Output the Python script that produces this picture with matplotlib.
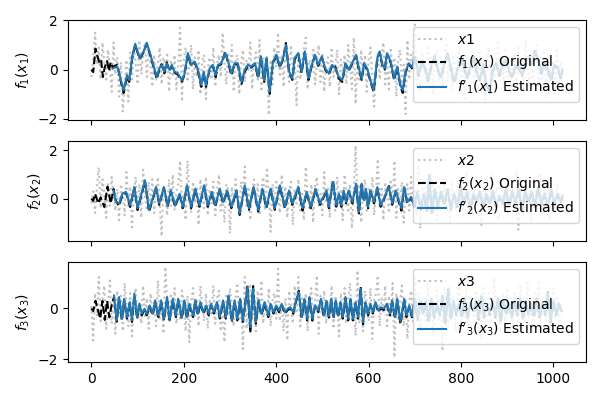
import numpy as np
import matplotlib.pyplot as plt

# input signals (dotted grey), sampled every 4 steps
x1 = [-0.3, 0.4, 1.5, 0.2, 0.9, -0.4, 1.1, 0.3, -0.5, 0.8, 0.1, -0.9, 1.1, -0.2, 0.5, -1.1,
      0.3, -1.7, -0.6, 0.4, -1.3, 0.7, -0.4, 0.9, 0.2, -0.6, 1.2, -0.2, 0.6, 1.1, -0.3, 0.8,
      0.2, -0.7, 0.6, -0.4, 0.3, 0.9, -0.6, 0.5, -0.2, 0.7, -0.9, 0.4, -0.3, 0.6, -0.8, 0.2,
      1.7, -1.3, 0.4, 0.9, -0.5, 0.2, 1.0, -0.8, 0.5, -0.3, 0.8, -1.0, 0.3, 0.6, -1.2, 0.1,
      0.5, -0.4, 0.9, -0.7, 0.2, 0.6, -0.3, 1.5, 0.4, -0.6, 0.7, -0.2, 1.0, -0.9, 0.3, 0.6,
      -1.0, 0.2, 0.8, -0.5, 0.4, -0.1, 1.1, -0.8, 0.3, 0.7, -0.4, 1.2, -0.9, 0.5, -0.2, 0.6,
      -1.85, 0.4, -0.6, 0.9, 0.1, 1.5, -0.3, 0.6, -0.7, 0.8, 0.2, -0.5, 1.0, -0.2, 0.5, -1.45,
      0.7, -0.4, 0.3, 0.9, 1.3, -0.8, 0.4, -0.2, 0.8, -0.6, 0.3, 1.0, -0.5, 0.6, -0.9, 0.2,
      0.5, -0.7, 0.9, -0.3, 0.2, 0.8, -1.0, 0.4, -0.2, 0.6, -0.6, 1.0, 0.1, -0.8, 1.3, -1.4,
      0.3, -0.5, 0.8, -0.2, 0.6, -0.9, 0.4, 0.9, -0.3, -1.5, 0.2, 0.7, -0.4, 0.5, 1.1, -0.6,
      0.3, -0.8, 0.9, -0.2, 0.5, -1.1, 0.4, 0.8, -0.6, 0.2, -1.8, 1.2, -0.4, 0.6, 0.2, 1.83,
      -0.6, 0.4, -0.9, 0.7, 0.1, -0.5, 0.9, -0.3, 0.5, -1.0, 0.3, 0.8, -0.4, 0.6, -0.7, 0.2,
      1.0, -0.5, 0.3, -0.8, 0.6, 0.1, -0.4, 0.9, -0.6, 0.4, -1.2, 0.5, 0.2, -0.3, 0.8, -0.5,
      0.4, -0.9, 0.7, -0.2, 0.3, -1.3, 0.6, 0.9, -0.4, 0.2, -0.7, 0.5, 1.1, -0.3, 0.4, -0.6,
      0.8, -0.4, 0.2, -1.0, 0.6, 0.3, -0.5, 0.9, -0.2, 0.4, -0.8, 1.2, 0.1, -0.6, 0.7, -0.3,
      0.5, 1.0, -0.7, 0.3, -0.4, 0.8, -1.1, 0.2, 0.6, -0.5, 0.4, -0.8, 0.9, -0.2, 0.3, -0.4]

x2 = [-0.2, 0.3, -0.6, 0.5, 1.3, -0.4, 0.8, 0.2, -0.8, 0.6, -0.3, 0.9, 0.1, -0.5, 0.4, -0.9,
      0.6, 0.2, -0.7, 1.1, -0.3, 0.5, -1.2, 0.3, 0.9, -0.4, 0.6, -0.8, 1.2, 0.1, -0.5, 0.7,
      -0.3, 0.8, -0.6, 0.4, 0.9, -0.2, -1.57, 0.5, 0.2, -0.7, 0.8, -0.3, 1.0, -0.5, 0.3, 0.6,
      1.58, -0.4, 0.2, -0.9, 1.58, 0.3, -0.6, 0.7, -0.2, 0.5, -1.1, 0.8, 0.1, -0.4, 0.9, -0.7,
      0.4, -0.2, 0.7, -0.8, 0.3, 1.0, -0.5, 0.2, -1.0, 0.6, 0.4, -1.45, 0.5, -0.3, 0.8, 0.1,
      -0.6, 0.7, 0.2, 1.33, -0.4, 0.5, -0.9, 0.3, 0.8, -0.2, 0.6, -0.7, 0.4, 0.9, -0.5, 1.3,
      0.2, -1.38, 0.6, -0.3, 0.8, 0.1, -0.6, 1.0, -0.4, 0.5, -0.8, 0.3, 0.7, -1.1, 0.4, -0.2,
      0.8, -0.5, 0.3, -0.9, 1.33, 0.2, -0.4, 0.6, -1.0, 0.5, 0.9, -0.3, 0.2, -0.7, 1.1, -0.2,
      0.5, -0.8, 0.7, 0.1, -0.5, 0.9, -0.3, 0.4, -0.9, 1.0, 0.2, -0.6, 0.6, -1.24, 0.3, 2.2,
      -0.4, 0.6, -1.0, 0.3, 0.8, -0.5, 0.4, -0.2, 0.9, -0.7, 0.2, 1.65, -0.3, 0.5, -0.9, 0.6,
      0.1, -0.6, 0.8, -0.3, 1.58, -0.8, 0.4, -0.2, 0.7, -1.0, 0.3, 0.6, -0.5, 0.9, -0.2, 0.4,
      -0.7, 1.38, -1.24, 0.5, -0.3, 0.8, -0.5, 0.2, 1.0, -0.6, 0.4, -0.9, 0.6, 0.1, -0.4, 0.8,
      -0.3, 0.5, -1.0, 0.7, 0.2, -0.5, 0.9, -0.2, 0.4, -0.8, 0.6, 1.1, -0.4, 0.3, -0.7, 0.5,
      0.9, -0.3, 0.2, -1.1, 0.6, -0.2, 0.8, -0.6, 0.3, 1.0, -0.4, 0.5, -0.9, 0.2, 0.7, -0.5,
      0.3, -0.7, 0.9, -0.2, 0.5, -0.4, 1.2, -1.3, 0.4, 0.1, -0.6, 0.8, -0.3, 0.6, -1.0, 0.2,
      0.7, -0.4, 0.3, 1.0, -0.6, 0.5, -0.2, 0.8, -0.9, 0.4, 0.1, -0.5, 0.6, -0.3, 0.2, -0.1]

x3 = [0.1, -1.26, 0.6, -0.3, 1.24, -0.5, 0.3, 0.9, -0.8, 0.2, 1.1, -0.6, 0.4, -1.0, 0.7, -0.2,
      0.5, -0.9, 1.0, 0.2, -0.7, 0.6, -1.1, 0.3, 0.8, -0.4, 0.2, -0.6, 0.9, -0.3, 0.4, -0.8,
      0.6, -0.2, 0.3, -0.7, 1.1, -0.4, 0.2, -1.0, 1.64, 0.3, -0.5, 0.6, -0.2, 0.8, -0.6, 0.1,
      -0.4, 0.7, 0.2, -0.9, 0.5, -1.33, 0.3, 0.8, -0.3, 0.4, -0.7, 0.9, 0.1, -0.5, 0.6, -0.8,
      0.3, -0.2, 0.9, -0.6, 0.4, 0.7, -0.9, 0.2, -1.33, 0.6, -0.3, 0.8, 0.1, -0.7, 0.4, 1.0,
      -0.5, 0.3, -1.6, 1.24, -0.8, 0.5, 0.9, -0.4, 0.2, -0.9, 0.7, -0.2, 1.1, -0.6, 0.3, -0.3,
      0.8, -0.7, 0.3, 0.6, -0.4, 1.57, -0.5, 0.2, -0.9, 0.4, -1.26, 0.7, 0.1, -0.6, 0.9, -0.2,
      1.24, -0.8, 0.4, -0.3, 0.6, -0.9, 0.2, 0.8, -0.5, 0.3, 1.3, -1.0, 0.5, -0.2, 0.7, -0.6,
      0.3, -0.4, 0.9, -0.8, 0.5, 0.2, -1.1, 0.6, -0.3, 0.8, -0.6, 0.4, 1.0, -0.5, 0.2, -1.07,
      1.5, -0.6, 0.4, -0.9, 0.7, 0.2, -0.5, 0.8, -1.2, 0.3, 0.6, 1.3, -0.7, 0.4, -0.2, 0.9,
      -0.8, 0.5, -0.3, 1.0, -1.93, 0.6, -0.4, 0.2, 0.9, -0.7, 0.4, -1.2, 0.3, 0.7, -0.5, 1.2,
      -0.3, 0.6, -0.9, 0.4, 0.1, -0.6, 1.0, -0.4, 0.5, -1.1, 0.3, 0.7, -0.5, 0.2, -1.6, 0.8,
      0.4, -0.7, 0.9, -0.2, 0.5, -0.9, 0.3, 1.1, -0.6, 0.2, -0.4, 0.8, -1.0, 0.5, 0.1, -0.6,
      0.7, -0.3, 0.4, -1.2, 0.9, 0.2, -0.5, 0.6, -0.8, 0.3, 1.2, -0.4, 0.5, -0.9, 0.2, 0.6,
      -0.5, 0.8, -0.2, 0.4, -1.0, 0.6, 0.1, -0.7, 0.9, -0.3, 0.5, -0.6, 1.1, -0.4, 0.3, -0.9,
      0.6, -0.2, 1.0, -0.8, 0.4, 0.2, -0.5, 0.7, -1.0, 0.3, 0.8, -0.4, 0.5, -0.6, 0.2, 0.1]

# f1: knot positions, original and estimated (estimate starts at t1[11])
t1 = [0, 4, 9, 13, 17, 21, 25, 29, 34, 38, 42,
      46, 56, 64, 70, 77, 82, 89, 95, 104, 107,
      113, 120, 128, 136, 142, 147, 152, 158, 163, 169,
      174, 180, 187, 196, 201, 209, 216, 223, 230, 238,
      243, 248, 256, 263, 269, 274, 281, 290, 296, 303,
      310, 317, 325, 332, 339, 346, 354, 361, 367, 374,
      379, 386, 393, 401, 408, 415, 421, 428, 435, 440,
      448, 455, 462, 470, 477, 484, 491, 499, 506, 514,
      521, 528, 535, 543, 550, 557, 564, 573, 579, 585,
      590, 597, 604, 611, 619, 624, 630, 635, 640, 648,
      655, 662, 669, 674, 680, 687,
      694, 701, 708, 715, 722, 729, 736, 743, 750, 757,
      764, 771, 778, 785, 792, 799, 806, 813, 820, 827,
      834, 841, 848, 855, 862, 869, 876, 883, 890, 897,
      904, 911, 918, 925, 932, 939, 946, 953, 960, 967,
      974, 981, 988, 995, 1002, 1009, 1016, 1020]
f1_orig = [0.0, -0.1, 0.85, 0.55, 0.3, 0.4, -0.3, 0.1, 0.35, -0.05, 0.3,
           0.1, 0.2, -0.5, -0.95, -0.3, -0.5, 0.55, 1.0, 0.45, 0.5,
           0.7, 1.05, 0.55, 0.0, -0.38, 0.0, 0.22, -0.15, 0.3, -0.05,
           0.15, -0.12, -0.2, -0.48, -0.25, 0.62, 0.15, 0.3, 0.0, -0.7,
           -0.12, -0.7, 0.0, 0.15, -0.3, 0.15, 0.22, 0.72, 0.28, -0.22,
           0.22, 0.2, -0.58, -0.08, 0.15, 0.08, 0.22, -0.35, 0.5, -0.5,
           0.42, -0.98, 0.3, 0.55, 0.08, 0.43, 1.08, -0.12, -0.42, 0.42,
           0.62, -0.15, 0.7, -0.42, 0.15, 0.55, 0.15, 0.5, 0.0, -0.2,
           0.15, 0.12, -0.35, -0.5, 0.22, -0.05, 0.22, 0.56, 0.0, -0.42,
           0.22, 0.0, -0.48, -0.9, 0.42, 0.7, 0.15, 0.0, 0.62, 0.28,
           -0.42, 0.08, -0.7, -0.95, -0.12, 0.22,
           0.05, 0.55, -0.25, 0.25, 0.05, -0.45, 0.15, 0.55, -0.05, -0.35,
           0.25, 0.65, 0.05, -0.55, -0.05, 0.45, 0.15, -0.35, 0.05, 0.55,
           -0.15, -0.45, 0.15, -0.65, -0.95, -0.05, 0.25, -0.25, 0.15, 0.45,
           -0.05, -0.35, 0.15, 0.05, -0.25, 0.25, 0.55, 0.15, 0.75, 0.35,
           -0.15, 0.25, -0.05, -0.45, 0.15, 0.05, -0.35, 0.0]
f1_est = [0.05, 0.12, -0.43, -0.84, -0.22, -0.43, 0.6, 1.05, 0.47, 0.54,
          0.74, 1.09, 0.6, 0.05, -0.3, 0.05, 0.19, -0.08, 0.26, -0.01,
          0.19, -0.08, -0.15, -0.43, -0.22, 0.67, 0.19, 0.33, 0.05, -0.63,
          -0.08, -0.63, 0.05, 0.19, -0.22, 0.19, 0.26, 0.67, 0.33, -0.15,
          0.26, 0.26, -0.5, -0.01, 0.19, 0.12, 0.26, -0.29, 0.54, -0.43,
          0.47, -0.9, 0.33, 0.6, 0.12, 0.47, 1.0, -0.08, -0.36, 0.47,
          0.67, -0.08, 0.74, -0.36, 0.19, 0.6, 0.19, 0.54, 0.05, -0.15,
          0.19, 0.05, -0.29, -0.43, 0.26, -0.01, 0.26, 0.6, 0.05, -0.36,
          0.26, 0.05, -0.43, -0.84, 0.47, 0.74, 0.19, 0.05, 0.67, 0.33,
          -0.36, 0.12, -0.63, -0.84, -0.08, 0.26,
          0.1, 0.5, -0.2, 0.3, 0.1, -0.4, 0.2, 0.5, 0.0, -0.3,
          0.3, 0.6, 0.1, -0.5, 0.0, 0.4, 0.2, -0.3, 0.1, 0.5,
          -0.1, -0.4, 0.2, -0.6, -0.9, 0.0, 0.3, -0.2, 0.2, 0.4,
          0.0, -0.3, 0.2, 0.1, -0.2, 0.3, 0.5, 0.2, 0.7, 0.4,
          -0.1, 0.3, 0.0, -0.4, 0.2, 0.1, -0.3, 0.0]

# f2 (estimate starts at t2[8])
t2 = [0, 4, 8, 15, 20, 28, 35, 42,
      48, 53, 60, 67, 75, 84, 93, 100, 116, 125,
      140, 147, 157, 165, 172, 181, 191, 198, 207, 216,
      225, 234, 244, 252, 261, 268, 278, 285, 294, 303,
      314, 321, 332, 341, 351, 361, 370, 379, 388, 397,
      408, 419, 428, 435, 448, 457, 466, 475, 485, 495,
      509, 514, 523, 530, 536, 541, 546, 551, 557, 565,
      573, 579, 585, 590, 594, 599, 604, 612, 619, 626,
      633, 644, 651, 659, 665, 671, 677, 684, 692,
      699, 706, 713, 720, 726, 731, 737, 743, 750, 757,
      764, 771, 778, 785, 792, 799, 806, 813, 820, 827,
      834, 841, 848, 855, 862, 869, 876, 883, 890, 897,
      904, 911, 918, 925, 932, 939, 946, 953, 960, 967,
      974, 981, 988, 995, 1002, 1009, 1016, 1020]
f2_orig = [0.0, -0.1, 0.2, -0.2, 0.05, -0.35, 0.5, -0.2,
           0.4, -0.1, -0.3, 0.15, 0.25, -0.35, 0.45, -0.48, 0.72, -0.55,
           0.44, -0.26, 0.44, -0.34, 0.3, -0.34, 0.16, -0.4, 0.5, -0.4,
           0.37, -0.34, 0.5, -0.34, 0.24, -0.34, 0.37, -0.2, 0.3, -0.4,
           0.3, -0.68, 0.5, -0.47, 0.44, -0.54, 0.37, -0.4, 0.37, -0.47,
           0.5, -0.4, 0.3, -0.26, 0.44, -0.5, 0.24, -0.4, 0.37, -0.26,
           0.3, -0.4, 0.75, -0.34, 0.16, -0.34, 0.3, -0.2, 0.3, -0.2,
           0.58, -0.62, 0.58, -0.12, 0.37, -0.4, 0.3, -0.2, 0.44, -0.34,
           -0.05, 0.52, -0.26, 0.3, -0.12, -0.5, 0.44, -0.2, 0.03,
           -0.35, 0.25, -0.45, 0.15, -0.55, 0.95, -0.65, 0.35, -0.35, 0.25,
           -0.25, 0.35, -0.45, 0.15, -0.35, 0.45, -0.25, 0.25, -0.45, 0.15,
           -0.15, 0.25, -0.35, 0.15, -0.25, 0.25, -0.35, 0.05, -0.25, 0.35,
           -0.35, 0.25, -0.25, 0.35, -0.45, 0.25, -0.15, 0.25, -0.35, 0.45,
           -0.25, 0.15, -0.35, 0.35, -0.25, 0.15, -0.15, 0.05]
f2_est = [0.34, -0.14, -0.2, 0.2, 0.28, -0.28, 0.48, -0.41, 0.76, -0.48,
          0.48, -0.2, 0.48, -0.28, 0.34, -0.28, 0.2, -0.34, 0.55, -0.34,
          0.41, -0.28, 0.55, -0.28, 0.28, -0.28, 0.41, -0.14, 0.34, -0.34,
          0.34, -0.62, 0.55, -0.41, 0.48, -0.48, 0.41, -0.34, 0.41, -0.41,
          0.55, -0.34, 0.34, -0.2, 0.48, -0.41, 0.28, -0.34, 0.41, -0.2,
          0.34, -0.34, 0.69, -0.28, 0.2, -0.28, 0.34, -0.14, 0.34, -0.14,
          0.62, -0.55, 0.62, -0.07, 0.41, -0.34, 0.34, -0.14, 0.48, -0.28,
          0.0, 0.48, -0.2, 0.34, -0.07, -0.41, 0.48, -0.14, 0.07,
          -0.3, 0.3, -0.4, 0.2, -0.5, 1.0, -0.6, 0.4, -0.3, 0.3,
          -0.2, 0.4, -0.4, 0.2, -0.3, 0.5, -0.2, 0.3, -0.4, 0.2,
          -0.1, 0.3, -0.3, 0.2, -0.2, 0.3, -0.3, 0.1, -0.2, 0.4,
          -0.3, 0.3, -0.2, 0.4, -0.4, 0.3, -0.1, 0.3, -0.3, 0.5,
          -0.2, 0.2, -0.3, 0.4, -0.2, 0.2, -0.1, 0.1]

# f3 (estimate starts at t3[10])
t3 = [0, 4, 9, 14, 19, 24, 29, 34, 39, 44,
      49, 55, 60, 66, 71, 77, 83, 88, 93, 99,
      104, 109, 115, 120, 126, 133, 138, 145, 151, 157,
      164, 169, 176, 183, 188, 196, 201, 207, 212, 220,
      225, 230, 236, 242, 249, 254, 259, 265, 272, 278,
      285, 291, 297, 304, 310, 316, 322, 328, 338, 344,
      350, 356, 362, 368, 375, 383, 388, 394, 400, 406,
      412, 419, 425, 430, 437, 442, 449, 455, 461, 467,
      472, 478, 484, 491, 497, 503, 509, 514, 519, 524,
      529, 534, 539, 544, 550, 556, 561, 566, 572, 577,
      583, 588, 593, 599, 604, 609, 615, 621, 626, 633,
      640, 646, 651, 657, 662, 669, 677, 682, 688,
      694, 700, 706, 712, 718, 724, 730, 736, 742, 748,
      754, 760, 766, 772, 778, 784, 790, 796, 802, 808,
      814, 820, 826, 832, 838, 844, 850, 856, 862, 868,
      874, 880, 886, 892, 898, 904, 910, 916, 922, 928,
      934, 940, 946, 952, 958, 964, 970, 976, 982, 988,
      994, 1000, 1006, 1012, 1018]
f3_orig = [0.0, -0.1, 0.3, -0.05, -0.4, 0.3, -0.45, 0.3, -0.35, 0.15,
           0.45, -0.52, 0.4, -0.46, 0.33, -0.4, 0.2, -0.53, 0.53, -0.4,
           0.13, -0.27, -0.06, -0.27, 0.07, -0.27, 0.27, -0.34, 0.27, -0.47,
           0.4, -0.53, 0.33, -0.34, 0.33, -0.4, 0.27, -0.4, 0.13, -0.34,
           0.27, -0.27, 0.2, -0.2, 0.07, -0.27, 0.13, -0.2, 0.2, -0.4,
           0.27, -0.4, 0.46, -0.53, 0.27, -0.47, 0.33, -0.53, 0.9, -0.95,
           0.88, -0.6, 0.27, -0.27, 0.2, -0.34, 0.13, -0.2, 0.07, -0.14,
           0.13, -0.2, -0.06, 0.0, -0.2, 0.2, 0.7, -0.4, 0.33, -0.47,
           0.4, -0.47, 0.07, -0.14, 0.33, -0.34, 0.25, -0.36, 0.33, -0.4,
           0.27, -0.34, 0.2, -0.4, 0.4, -0.47, 0.33, -0.47, 0.2, -0.4,
           0.85, -0.62, 0.2, -0.27, 0.13, -0.2, 0.2, -0.14, 0.0, -0.06,
           0.13, -0.27, 0.27, -0.4, 0.33, -0.62, 0.33, -0.34, 0.07,
           -0.35, 0.35, -0.45, 0.25, -0.25, 0.25, -0.55, 0.35, -0.35, 0.15,
           -0.25, 0.45, -0.65, 0.75, -0.45, 0.25, -0.25, 0.15, -0.35, 0.35,
           -0.35, 0.15, -0.15, 0.25, -0.45, 0.45, -0.35, 0.15, -0.25, 0.25,
           -0.35, 0.35, -0.55, 0.25, -0.25, 0.15, -0.35, 0.25, -0.25, 0.35,
           -0.45, 0.25, -0.25, 0.15, -0.35, 0.35, -0.35, 0.15, -0.25, 0.65,
           -0.55, 0.25, -0.25, 0.15, -0.1]
f3_est = [0.51, -0.47, 0.45, -0.41, 0.38, -0.34, 0.25, -0.47, 0.58, -0.34,
          0.18, -0.21, -0.01, -0.21, 0.12, -0.21, 0.32, -0.28, 0.32, -0.41,
          0.45, -0.47, 0.38, -0.28, 0.38, -0.34, 0.32, -0.34, 0.18, -0.28,
          0.32, -0.21, 0.25, -0.14, 0.12, -0.21, 0.18, -0.14, 0.25, -0.34,
          0.32, -0.34, 0.51, -0.47, 0.32, -0.41, 0.38, -0.47, 0.84, -0.74,
          0.78, -0.54, 0.32, -0.21, 0.25, -0.28, 0.18, -0.14, 0.12, -0.08,
          0.18, -0.14, -0.01, 0.05, -0.14, 0.25, 0.65, -0.34, 0.38, -0.41,
          0.45, -0.41, 0.12, -0.08, 0.38, -0.28, 0.3, -0.3, 0.38, -0.34,
          0.32, -0.28, 0.25, -0.34, 0.45, -0.41, 0.38, -0.41, 0.25, -0.34,
          0.78, -0.54, 0.25, -0.21, 0.18, -0.14, 0.25, -0.08, 0.05, -0.01,
          0.18, -0.21, 0.32, -0.34, 0.38, -0.5, 0.38, -0.28, 0.12,
          -0.3, 0.4, -0.4, 0.3, -0.2, 0.3, -0.5, 0.4, -0.3, 0.2,
          -0.2, 0.5, -0.6, 0.7, -0.4, 0.3, -0.2, 0.2, -0.3, 0.4,
          -0.3, 0.2, -0.1, 0.3, -0.4, 0.5, -0.3, 0.2, -0.2, 0.3,
          -0.3, 0.4, -0.5, 0.3, -0.2, 0.2, -0.3, 0.3, -0.2, 0.4,
          -0.4, 0.3, -0.2, 0.2, -0.3, 0.4, -0.3, 0.2, -0.2, 0.6,
          -0.5, 0.3, -0.2, 0.2, -0.1]

panels = [
    (x1, t1, f1_orig, f1_est, "1"),
    (x2, t2, f2_orig, f2_est, "2"),
    (x3, t3, f3_orig, f3_est, "3"),
]

fig, axes = plt.subplots(3, 1, sharex=True, figsize=(6, 4), dpi=100)

for ax, (xs, t, orig, est, k) in zip(axes, panels):
    ts = np.arange(len(xs)) * 4
    ax.plot(ts, xs, ':', color='0.55', alpha=0.55, label=f"$x{k}$")
    ax.plot(t, orig, 'k--', label=f"$f_{k}(x_{k})$ Original")
    ax.plot(t[len(t) - len(est):], est, color='C0', label=f"$f'_{k}(x_{k})$ Estimated")
    ax.set_ylabel(f"$f_{k}(x_{k})$")
    ax.legend(loc='upper right')

plt.subplots_adjust(left=0.113, right=0.977, top=0.95, bottom=0.095, hspace=0.215)
plt.savefig("out.png")
